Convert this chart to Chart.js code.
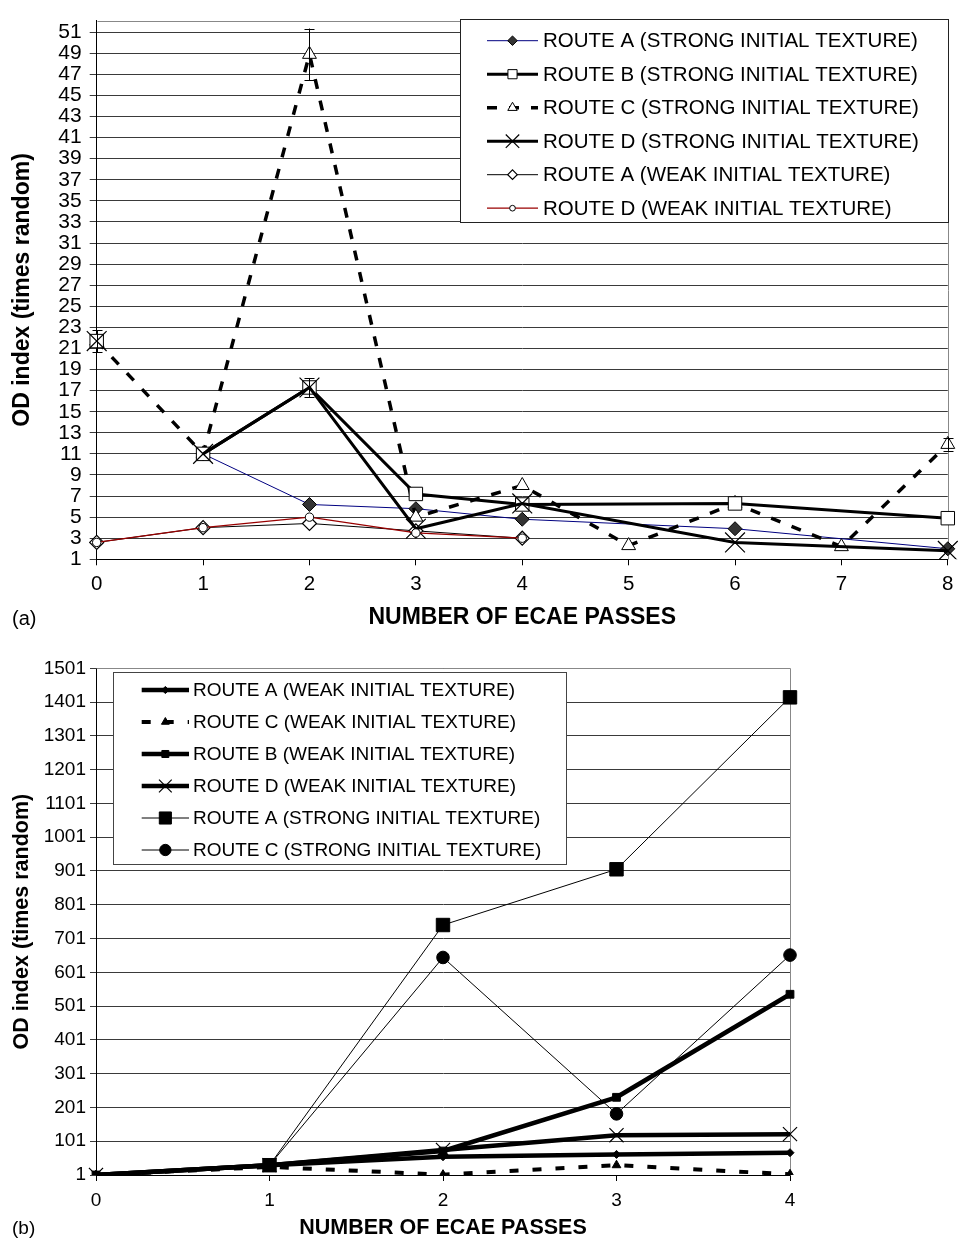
<!DOCTYPE html>
<html>
<head>
<meta charset="utf-8">
<script src="https://cdn.jsdelivr.net/npm/chart.js@4.4.1/dist/chart.umd.min.js"></script>
<style>
html,body{margin:0;padding:0;background:#fff;}
#wrap{position:relative;width:963px;height:1241px;overflow:hidden;font-family:"Liberation Sans",Arial,sans-serif;}
canvas{position:absolute;left:0;}
#c1{top:0;}
#c2{top:632px;}
.lab{position:absolute;left:12px;color:#000;font-family:"Liberation Sans",Arial,sans-serif;}
</style>
</head>
<body>
<div id="wrap">
<canvas id="c1" width="963" height="632"></canvas>
<canvas id="c2" width="963" height="609"></canvas>
<div class="lab" style="top:606px;font-size:20px;line-height:24px;">(a)</div>
<div class="lab" style="top:1216px;font-size:19px;line-height:24px;">(b)</div>
</div>
<script>
// ---------- DATA: chart (a) ----------
const passesA = ['0', '1', '2', '3', '4', '5', '6', '7', '8'];
const routeAStrongA = [null, 11.0, 6.2, 5.8, 4.8, null, 3.9, null, 2.0];
const routeBStrongA = [21.7, 11.0, 17.3, 7.2, 6.2, null, 6.3, null, 4.9];
const routeCStrongA = [21.7, 11.0, 48.9, 5.0, 8.0, 2.3, 6.3, 2.2, 11.9];
const routeDStrongA = [21.7, 11.0, 17.3, 3.9, 6.3, null, 2.6, null, 1.8];
const routeAWeakA = [2.6, 4.0, 4.4, 3.7, 3.0, null, null, null, null];
const routeDWeakA = [2.6, 4.0, 5.0, 3.5, 3.0, null, null, null, null];
const errBStrongA = [null, null, 0.9, null, null, null, null, null, null];
const errCStrongA = [1.05, null, 2.45, null, null, null, null, null, 0.6];
const yTicksA = [1, 3, 5, 7, 9, 11, 13, 15, 17, 19, 21, 23, 25, 27, 29, 31, 33, 35, 37, 39, 41, 43, 45, 47, 49, 51];
const labelsA = ['ROUTE A (STRONG INITIAL TEXTURE)', 'ROUTE B (STRONG INITIAL TEXTURE)', 'ROUTE C (STRONG INITIAL TEXTURE)', 'ROUTE D (STRONG INITIAL TEXTURE)', 'ROUTE A (WEAK INITIAL TEXTURE)', 'ROUTE D (WEAK INITIAL TEXTURE)'];

// ---------- DATA: chart (b) ----------
const passesB = ['0', '1', '2', '3', '4'];
const routeAWeakB = [1, 30, 55, 62, 67];
const routeCWeakB = [1, 25, 2, 30, 3];
const routeBWeakB = [1, 30, 72, 231, 536];
const routeDWeakB = [1, 30, 75, 119, 122];
const routeAStrongB = [null, 30, 741, 906, 1415];
const routeCStrongB = [null, 30, 645, 182, 652];
const yTicksB = [1, 101, 201, 301, 401, 501, 601, 701, 801, 901, 1001, 1101, 1201, 1301, 1401, 1501];
const labelsB = ['ROUTE A (WEAK INITIAL TEXTURE)', 'ROUTE C (WEAK INITIAL TEXTURE)', 'ROUTE B (WEAK INITIAL TEXTURE)', 'ROUTE D (WEAK INITIAL TEXTURE)', 'ROUTE A (STRONG INITIAL TEXTURE)', 'ROUTE C (STRONG INITIAL TEXTURE)'];

const xTitle = 'NUMBER OF ECAE PASSES';
const yTitle = 'OD index (times random)';
const FAMILY = '"Liberation Sans", Arial, sans-serif';
Chart.defaults.font.family = FAMILY;
Chart.defaults.color = '#000';

function drawMarker(ctx, style, r, x, y, fill, stroke, bw) {
  ctx.beginPath();
  if (style === 'circle') {
    ctx.arc(x, y, r, 0, Math.PI * 2);
  } else if (style === 'rect') {
    const s = r * Math.SQRT1_2;
    ctx.rect(x - s, y - s, 2 * s, 2 * s);
  } else if (style === 'rectRot') {
    ctx.moveTo(x - r, y); ctx.lineTo(x, y - r); ctx.lineTo(x + r, y); ctx.lineTo(x, y + r); ctx.closePath();
  } else if (style === 'triangle') {
    let a = 0;
    ctx.moveTo(x + Math.sin(a) * r, y - Math.cos(a) * r);
    a += 2 * Math.PI / 3;
    ctx.lineTo(x + Math.sin(a) * r, y - Math.cos(a) * r);
    a += 2 * Math.PI / 3;
    ctx.lineTo(x + Math.sin(a) * r, y - Math.cos(a) * r);
    ctx.closePath();
  } else if (style === 'crossRot') {
    const s = r * Math.SQRT1_2;
    ctx.moveTo(x - s, y - s); ctx.lineTo(x + s, y + s);
    ctx.moveTo(x + s, y - s); ctx.lineTo(x - s, y + s);
  }
  if (style !== 'crossRot') { ctx.fillStyle = fill; ctx.fill(); }
  if (bw > 0) { ctx.lineWidth = bw; ctx.strokeStyle = stroke; ctx.stroke(); }
}

const framePlugin = {
  id: 'frame',
  beforeDatasetsDraw(chart, args, o) {
    const {ctx, chartArea: a} = chart;
    ctx.save();
    ctx.strokeStyle = o.color;
    ctx.lineWidth = 1;
    const l = Math.round(a.left) + 0.5, r = Math.round(a.right) + 0.5, t = Math.round(a.top) + 0.5, b = Math.round(a.bottom) + 0.5;
    ctx.beginPath();
    ctx.moveTo(l, t); ctx.lineTo(r, t); ctx.lineTo(r, b);
    ctx.stroke();
    ctx.restore();
  }
};

const errorPlugin = {
  id: 'errbars',
  afterDatasetsDraw(chart, args, o) {
    const {ctx} = chart;
    const xs = chart.scales.x, ys = chart.scales.y;
    chart.data.datasets.forEach(ds => {
      if (!ds.errors) return;
      ds.errors.forEach((e, j) => {
        const v = ds.data[j];
        if (e == null || v == null) return;
        const px = Math.round(xs.getPixelForValue(j)) + 0.5;
        const yt = ys.getPixelForValue(v + e), yb = ys.getPixelForValue(v - e);
        ctx.save();
        ctx.strokeStyle = '#000';
        ctx.lineWidth = 1;
        ctx.beginPath();
        ctx.moveTo(px, yt); ctx.lineTo(px, yb);
        ctx.moveTo(px - o.cap, Math.round(yt) + 0.5); ctx.lineTo(px + o.cap, Math.round(yt) + 0.5);
        ctx.moveTo(px - o.cap, Math.round(yb) + 0.5); ctx.lineTo(px + o.cap, Math.round(yb) + 0.5);
        ctx.stroke();
        ctx.restore();
      });
    });
  }
};

const legendPlugin = {
  id: 'boxLegend',
  afterDraw(chart, args, o) {
    const ctx = chart.ctx;
    ctx.save();
    ctx.fillStyle = '#fff';
    ctx.fillRect(o.x, o.y, o.w, o.h);
    ctx.strokeStyle = o.border;
    ctx.lineWidth = 1;
    ctx.strokeRect(Math.round(o.x) + 0.5, Math.round(o.y) + 0.5, Math.round(o.w), Math.round(o.h));
    chart.data.datasets.forEach((ds, i) => {
      const cy = o.firstRow + i * o.rowGap;
      ctx.save();
      ctx.strokeStyle = ds.borderColor;
      ctx.lineWidth = ds.borderWidth;
      ctx.setLineDash(ds.borderDash || []);
      ctx.beginPath();
      ctx.moveTo(o.lineX0, cy); ctx.lineTo(o.lineX1, cy);
      ctx.stroke();
      ctx.restore();
      ctx.save();
      drawMarker(ctx, ds.pointStyle, ds.pointRadius * o.markerScale, (o.lineX0 + o.lineX1) / 2, cy,
        ds.pointBackgroundColor, ds.pointBorderColor, ds.pointBorderWidth);
      ctx.restore();
      ctx.fillStyle = '#000';
      ctx.font = o.fontSize + 'px ' + FAMILY;
      ctx.textBaseline = 'middle';
      ctx.textAlign = 'left';
      ctx.fillText(ds.label, o.textX, cy + 1);
    });
    ctx.restore();
  }
};

function lineDs(label, data, o) {
  return Object.assign({
    label: label, data: data, spanGaps: true, tension: 0, fill: false,
    borderColor: '#000', borderWidth: 1, pointBorderColor: '#000', pointBorderWidth: 1,
    pointBackgroundColor: '#fff', pointRadius: 6, pointHoverRadius: 6
  }, o);
}

const hideFirst = { borderColor: ctx => ctx.p0DataIndex === 0 ? 'rgba(0,0,0,0)' : undefined };

// ---------- Chart (a) ----------
new Chart(document.getElementById('c1'), {
  type: 'line',
  data: {
    labels: passesA,
    datasets: [
      lineDs(labelsA[0], routeAStrongA, {borderColor: '#000080', borderWidth: 1, pointStyle: 'rectRot', pointRadius: 7, pointBackgroundColor: '#333333', order: 3}),
      lineDs(labelsA[1], routeBStrongA, {borderWidth: 3, pointStyle: 'rect', pointRadius: 9.5, errors: errBStrongA, segment: hideFirst, order: 1}),
      lineDs(labelsA[2], routeCStrongA, {borderWidth: 3.5, borderDash: [10, 12], pointStyle: 'triangle', pointRadius: 8, errors: errCStrongA, order: 2}),
      lineDs(labelsA[3], routeDStrongA, {borderWidth: 3, pointStyle: 'crossRot', pointRadius: 14, pointBorderWidth: 1.2, segment: hideFirst, order: 0}),
      lineDs(labelsA[4], routeAWeakA, {borderWidth: 1, pointStyle: 'rectRot', pointRadius: 7, pointBorderWidth: 1.2, order: 4}),
      lineDs(labelsA[5], routeDWeakA, {borderColor: '#990000', borderWidth: 1.2, pointStyle: 'circle', pointRadius: 4.2, order: -1})
    ]
  },
  options: {
    responsive: false, animation: false, devicePixelRatio: 1,
    layout: {padding: {top: 7, right: 7, bottom: 0, left: 0}},
    plugins: {
      legend: {display: false}, tooltip: {enabled: false},
      frame: {color: '#888'},
      errbars: {cap: 5},
      boxLegend: {x: 460, y: 19, w: 488, h: 203, border: '#222', firstRow: 40.7, rowGap: 33.5,
        lineX0: 487, lineX1: 538, textX: 543, fontSize: 20.5, markerScale: 0.68}
    },
    scales: {
      x: {
        type: 'category', offset: false,
        grid: {drawOnChartArea: false, drawTicks: true, tickLength: 6, color: '#000'},
        border: {display: true, color: '#000', width: 1},
        ticks: {color: '#000', font: {size: 20.5}, padding: 7, maxRotation: 0, autoSkip: false},
        title: {display: true, text: xTitle, color: '#000', font: {size: 23, weight: 'bold'}, padding: {top: 0, bottom: 1}},
        afterFit: s => { s.height = 72.7; }
      },
      y: {
        type: 'linear', min: 1, max: 52.1,
        afterBuildTicks: s => { s.ticks = yTicksA.map(v => ({value: v})); },
        grid: {color: '#3a3a3a', drawTicks: true, tickLength: 7},
        border: {display: true, color: '#000', width: 1},
        ticks: {color: '#000', font: {size: 21}, padding: 8, autoSkip: false, callback: v => String(v)},
        title: {display: true, text: yTitle, color: '#000', font: {size: 23, weight: 'bold'}, padding: {top: 9, bottom: 0}},
        afterFit: s => { s.width = 96.7; }
      }
    }
  },
  plugins: [framePlugin, errorPlugin, legendPlugin]
});

// ---------- Chart (b) ----------
new Chart(document.getElementById('c2'), {
  type: 'line',
  data: {
    labels: passesB,
    datasets: [
      lineDs(labelsB[0], routeAWeakB, {borderWidth: 4.5, pointStyle: 'rectRot', pointRadius: 4, pointBackgroundColor: '#000'}),
      lineDs(labelsB[1], routeCWeakB, {borderWidth: 4, borderDash: [9, 14], pointStyle: 'triangle', pointRadius: 5, pointBackgroundColor: '#000'}),
      lineDs(labelsB[2], routeBWeakB, {borderWidth: 4.5, pointStyle: 'rect', pointRadius: 5.5, pointBackgroundColor: '#000'}),
      lineDs(labelsB[3], routeDWeakB, {borderWidth: 4.5, pointStyle: 'crossRot', pointRadius: 10, pointBorderWidth: 1.2}),
      lineDs(labelsB[4], routeAStrongB, {borderWidth: 1, pointStyle: 'rect', pointRadius: 9.5, pointBackgroundColor: '#000'}),
      lineDs(labelsB[5], routeCStrongB, {borderWidth: 1, pointStyle: 'circle', pointRadius: 6.3, pointBackgroundColor: '#000'})
    ]
  },
  options: {
    responsive: false, animation: false, devicePixelRatio: 1,
    layout: {padding: {top: 36.3, right: 173, bottom: 0, left: 0}},
    plugins: {
      legend: {display: false}, tooltip: {enabled: false},
      frame: {color: '#888'},
      errbars: {cap: 5},
      boxLegend: {x: 113, y: 40.3, w: 453, h: 192, border: '#444', firstRow: 58, rowGap: 32,
        lineX0: 141.7, lineX1: 189, textX: 193, fontSize: 19, markerScale: 0.9}
    },
    scales: {
      x: {
        type: 'category', offset: false,
        grid: {drawOnChartArea: false, drawTicks: true, tickLength: 6, color: '#000'},
        border: {display: true, color: '#000', width: 1},
        ticks: {color: '#000', font: {size: 19}, padding: 8, maxRotation: 0, autoSkip: false},
        title: {display: true, text: xTitle, color: '#000', font: {size: 21.5, weight: 'bold'}, padding: {top: 0, bottom: 0}},
        afterFit: s => { s.height = 66; }
      },
      y: {
        type: 'linear', min: 1, max: 1501,
        afterBuildTicks: s => { s.ticks = yTicksB.map(v => ({value: v})); },
        grid: {color: '#3a3a3a', drawTicks: true, tickLength: 6},
        border: {display: true, color: '#000', width: 1},
        ticks: {color: '#000', font: {size: 19}, padding: 4, autoSkip: false, callback: v => String(v)},
        title: {display: true, text: yTitle, color: '#000', font: {size: 21.5, weight: 'bold'}, padding: {top: 9.6, bottom: 0}},
        afterFit: s => { s.width = 96; }
      }
    }
  },
  plugins: [framePlugin, errorPlugin, legendPlugin]
});
</script>
</body>
</html>
